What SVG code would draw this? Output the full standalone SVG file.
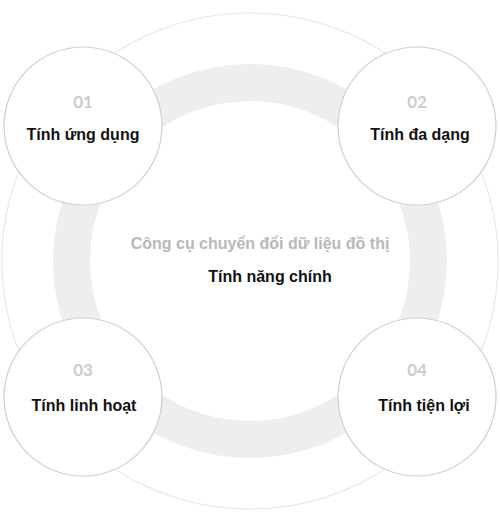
<svg xmlns="http://www.w3.org/2000/svg" width="500" height="515" viewBox="0 0 500 515">
<style>
.node circle{fill:#fff;stroke:#cfcfcf;stroke-width:1.2}
.num{font-family:"Lato","Liberation Sans",sans-serif;font-weight:bold;font-size:17px;fill:#cccccc;text-anchor:middle}
.lbl{font-family:"Liberation Sans",Arial,sans-serif;font-weight:bold;font-size:16px;fill:#111;text-anchor:middle}
.sub{font-family:"Liberation Sans",Arial,sans-serif;font-weight:bold;font-size:16px;fill:#b8b8b8;text-anchor:middle}
</style>
<rect width="500" height="515" fill="#fff"/>
<g id="rings">
<circle cx="250" cy="261" r="248" fill="none" stroke="#e9e9e9" stroke-width="1.2"/>
<circle cx="250" cy="261" r="178.5" fill="none" stroke="#eeeeee" stroke-width="37"/>
</g>
<g id="center">
<text class="sub" x="260" y="249">Công cụ chuyển đổi dữ liệu đồ thị</text>
<text class="lbl" x="270" y="282">Tính năng chính</text>
</g>
<g id="connectors"></g>
<g id="node1" class="node">
<circle cx="83" cy="126" r="79"/>
<text class="num" x="83" y="108">01</text>
<text class="lbl" x="83" y="140">Tính ứng dụng</text>
</g>
<g id="node2" class="node">
<circle cx="417" cy="126" r="79"/>
<text class="num" x="417" y="108">02</text>
<text class="lbl" x="420" y="140">Tính đa dạng</text>
</g>
<g id="node3" class="node">
<circle cx="83" cy="397" r="79"/>
<text class="num" x="83" y="376">03</text>
<text class="lbl" x="84" y="411">Tính linh hoạt</text>
</g>
<g id="node4" class="node">
<circle cx="417" cy="397" r="79"/>
<text class="num" x="417" y="376">04</text>
<text class="lbl" x="424" y="411">Tính tiện lợi</text>
</g>
</svg>
